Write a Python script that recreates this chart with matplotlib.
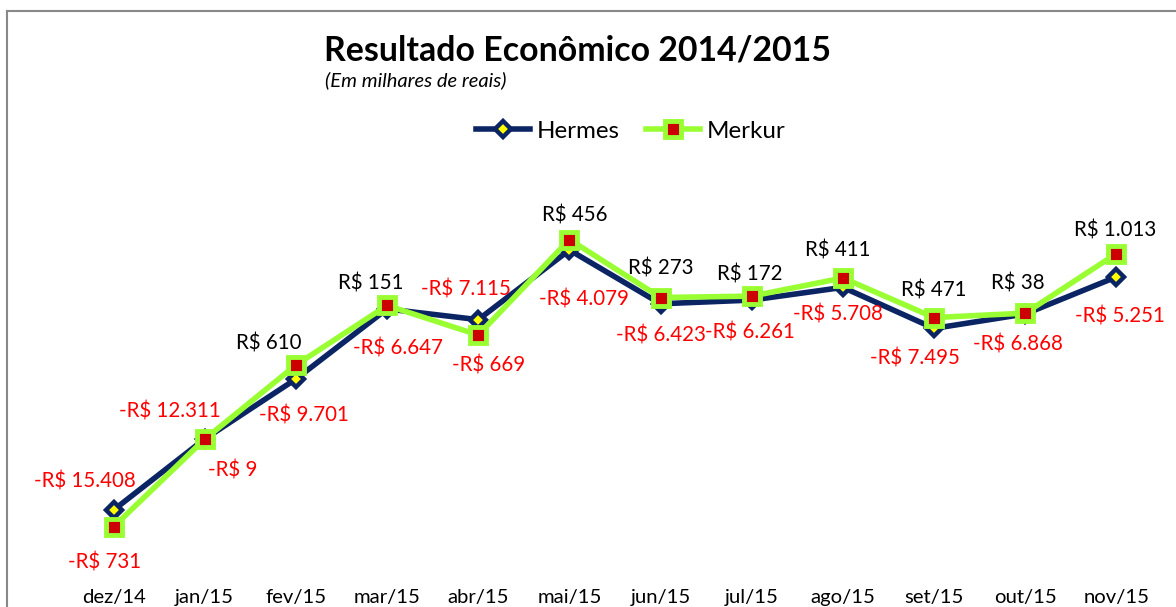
import numpy as np
import matplotlib
matplotlib.use("Agg")
import matplotlib.pyplot as plt
from matplotlib.lines import Line2D

months = ["dez/14", "jan/15", "fev/15", "mar/15", "abr/15", "mai/15",
          "jun/15", "jul/15", "ago/15", "set/15", "out/15", "nov/15"]
hermes = [-15408, -12311, -9701, -6647, -7115, -4079,
          -6423, -6261, -5708, -7495, -6868, -5251]
merkur = [-731, -9, 610, 151, -669, 456, 273, 172, 411, 471, 38, 1013]

# label offsets in pixels (dx, dy down positive)
hermes_off = [(-29, -28), (-35, -27), (8, 36), (11, 40), (-12, -30), (15, 50),
              (0, 32), (-2, 32), (-5, 27), (-19, 30), (-7, 30), (4, 40)]
merkur_off = [(-9, 36), (28, 31), (-27, -22), (-16, -22), (10, 30), (5, -24),
              (0, -29), (-2, -22), (-5, -27), (0, -27), (-7, -30), (-1, -23)]

FONT = "Lato"
plt.rcParams["font.family"] = [FONT, "DejaVu Sans"]

W, H = 1176, 607
fig = plt.figure(figsize=(W / 100, H / 100), dpi=100)
ax = fig.add_axes([68 / W, (H - 585) / H, (1162 - 68) / W, (585 - 190) / H])

x = np.arange(len(months))
h = np.array(hermes, dtype=float)
m = h + np.array(merkur, dtype=float)  # stacked line

navy = "#0B2463"
green = "#99FF33"
ax.plot(x, h, color=navy, lw=4, marker="D", ms=8.5, mfc="#FFFF00",
        mec=navy, mew=3.2, solid_joinstyle="miter", label="Hermes", zorder=3)
ax.plot(x, m, color=green, lw=4, marker="s", ms=12, mfc="#CC0000",
        mec=green, mew=3.5, solid_joinstyle="miter", label="Merkur", zorder=4)

def fmt(v):
    s = f"{abs(v):,}".replace(",", ".")
    return ("-R$ " if v < 0 else "R$ ") + s

px2pt = 0.72
for i in range(len(months)):
    for vals, base, offs in ((hermes, h, hermes_off), (merkur, m, merkur_off)):
        v = vals[i]
        dx, dy = offs[i]
        ax.annotate(fmt(v), (x[i], base[i]), xytext=(dx * px2pt, -dy * px2pt),
                    textcoords="offset points", ha="center", va="center",
                    fontsize=14.8, color="#FF0000" if v < 0 else "black", zorder=5)

ax.set_xlim(-0.5, len(months) - 0.5)
ax.set_ylim(-18676, -1465)
ax.set_xticks(x)
ax.set_xticklabels(months, fontsize=14.6)
ax.tick_params(axis="x", length=0, pad=3)
ax.set_yticks([])
for s in ax.spines.values():
    s.set_visible(False)

fig.text(577 / W, 1 - 50 / H, "Resultado Econômico 2014/2015", ha="center",
         va="center", fontsize=24.4, fontweight="bold")
fig.text(416 / W, 1 - 80 / H, "(Em milhares de reais)", ha="center",
         va="center", fontsize=14.5, style="italic")

fig.legend(loc="center", bbox_to_anchor=(631 / W, 1 - 131 / H), ncol=2,
           frameon=False, fontsize=17.4, handlelength=2.2, columnspacing=1.1,
           handletextpad=0.3)

fig.add_artist(Line2D([7 / W, 7 / W], [0, 1 - 11 / H], color="#888888", lw=1.5,
                      transform=fig.transFigure))
fig.add_artist(Line2D([7 / W, 1], [1 - 11 / H, 1 - 11 / H], color="#888888", lw=1.5,
                      transform=fig.transFigure))

fig.savefig("out.png", dpi=100)
